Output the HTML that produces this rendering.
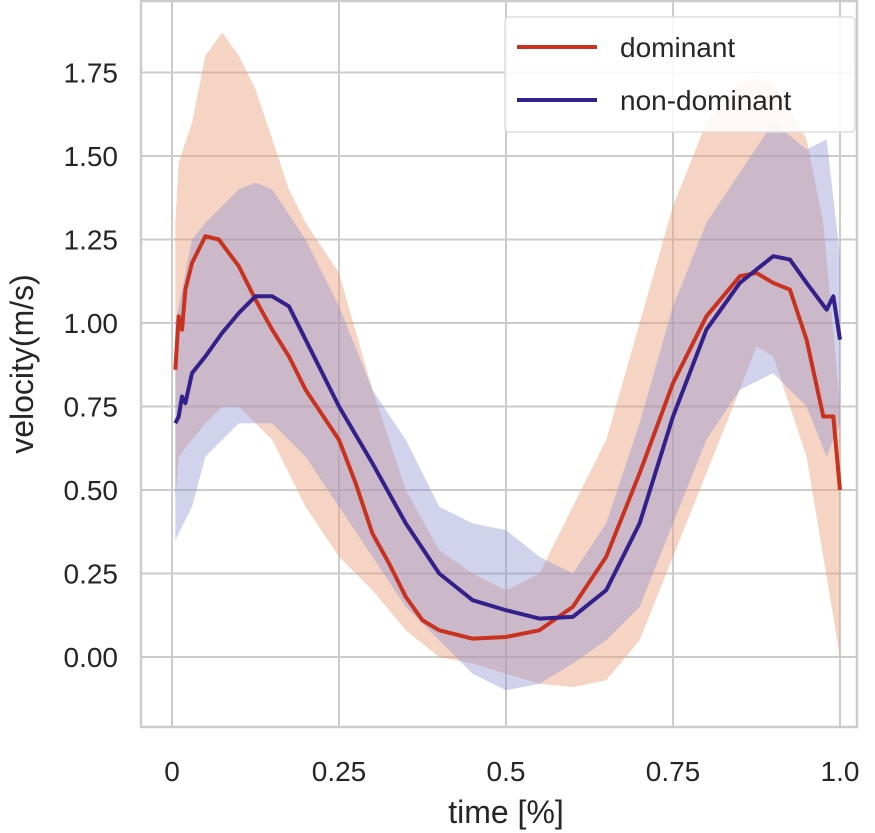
<!DOCTYPE html>
<html><head><meta charset="utf-8"><style>
body{margin:0;background:#fff;}
svg{display:block;font-family:"Liberation Sans",sans-serif;}
</style></head><body>
<svg id="chart" width="875" height="833"></svg>
<script>
const xTicks=[0,0.25,0.5,0.75,1.0];
const xTickLabels=["0","0.25","0.5","0.75","1.0"];
const yTicks=[0,0.25,0.5,0.75,1.0,1.25,1.5,1.75];
const yTickLabels=["0.00","0.25","0.50","0.75","1.00","1.25","1.50","1.75"];
const domX=[0.005,0.01,0.015,0.02,0.03,0.05,0.07,0.1,0.125,0.15,0.175,0.2,0.25,0.275,0.3,0.325,0.35,0.375,0.4,0.45,0.5,0.55,0.6,0.65,0.7,0.75,0.8,0.85,0.875,0.9,0.925,0.95,0.975,0.99,1.0];
const domMean=[0.86,1.02,0.98,1.1,1.18,1.26,1.25,1.17,1.07,0.98,0.9,0.8,0.65,0.52,0.37,0.28,0.18,0.11,0.08,0.055,0.06,0.08,0.15,0.3,0.55,0.82,1.02,1.14,1.15,1.12,1.1,0.95,0.72,0.72,0.5];
const domBandX=[0.005,0.01,0.03,0.05,0.075,0.1,0.125,0.15,0.175,0.2,0.25,0.3,0.35,0.4,0.45,0.5,0.55,0.6,0.65,0.7,0.75,0.8,0.85,0.875,0.9,0.95,0.975,1.0];
const domUpper=[1.3,1.48,1.6,1.8,1.87,1.8,1.7,1.55,1.4,1.3,1.15,0.8,0.5,0.32,0.25,0.2,0.25,0.45,0.65,1.0,1.35,1.6,1.72,1.73,1.72,1.55,1.3,0.75];
const domLower=[0.47,0.6,0.65,0.7,0.75,0.75,0.7,0.65,0.55,0.45,0.3,0.2,0.08,0.0,-0.02,-0.05,-0.08,-0.09,-0.07,0.05,0.3,0.55,0.8,0.93,0.9,0.6,0.3,0.0];
const ndX=[0.005,0.01,0.015,0.02,0.03,0.05,0.075,0.1,0.125,0.15,0.175,0.2,0.25,0.3,0.35,0.4,0.45,0.5,0.55,0.6,0.65,0.7,0.75,0.8,0.85,0.9,0.925,0.95,0.98,0.99,1.0];
const ndMean=[0.7,0.72,0.78,0.76,0.85,0.9,0.97,1.03,1.08,1.08,1.05,0.95,0.75,0.58,0.4,0.25,0.17,0.14,0.115,0.12,0.2,0.4,0.72,0.98,1.12,1.2,1.19,1.12,1.04,1.08,0.95];
const ndBandX=[0.005,0.03,0.05,0.1,0.125,0.15,0.2,0.25,0.3,0.35,0.4,0.45,0.5,0.55,0.6,0.65,0.7,0.75,0.8,0.85,0.9,0.95,0.98,1.0];
const ndUpper=[1.0,1.25,1.3,1.4,1.42,1.4,1.25,1.05,0.8,0.65,0.45,0.4,0.38,0.3,0.25,0.4,0.7,1.05,1.3,1.45,1.6,1.52,1.55,1.2];
const ndLower=[0.35,0.45,0.6,0.7,0.7,0.7,0.6,0.45,0.3,0.15,0.05,-0.05,-0.1,-0.08,-0.02,0.05,0.15,0.4,0.65,0.8,0.85,0.75,0.6,0.7];

const NS="http://www.w3.org/2000/svg";
const svg=document.getElementById('chart');
const X=v=>172+v*668;
const Y=v=>657-v*334;
function mk(tag,attrs,parent){const e=document.createElementNS(NS,tag);for(const k in attrs)e.setAttribute(k,attrs[k]);(parent||svg).appendChild(e);return e;}

const frame=mk('rect',{x:141,y:1,width:716,height:726,fill:'#fff',stroke:'#cccccc','stroke-width':2.5});


xTicks.forEach((t,i)=>{
  const l=mk('line',{x1:X(t),x2:X(t),y1:1,y2:727,stroke:'#cccccc','stroke-width':2});
  
  
  const tx=mk('text',{x:X(t),y:781,'text-anchor':'middle','font-size':28,fill:'#262626'});
  tx.textContent=xTickLabels[i];
  
  
});
yTicks.forEach((t,i)=>{
  const l=mk('line',{x1:141,x2:857,y1:Y(t),y2:Y(t),stroke:'#cccccc','stroke-width':2});
  
  
  const tx=mk('text',{x:118,y:Y(t)+10,'text-anchor':'end','font-size':28,fill:'#262626'});
  tx.textContent=yTickLabels[i];
  
  
});
function band(xs,up,lo,fill,op,name){
  let d='M'+xs.map((x,i)=>X(x)+','+Y(up[i])).join('L');
  for(let i=xs.length-1;i>=0;i--)d+='L'+X(xs[i])+','+Y(lo[i]);
  const p=mk('path',{d:d+'Z',fill:fill,'fill-opacity':op,stroke:'none'});
  
  
}
function line(xs,ys,col,name){
  const p=mk('path',{d:'M'+xs.map((x,i)=>X(x)+','+Y(ys[i])).join('L'),fill:'none',stroke:col,'stroke-width':4,'stroke-linejoin':'round'});
  
  
}
band(domBandX,domUpper,domLower,'#e8a07c',0.45,'dominant-band');
band(ndBandX,ndUpper,ndLower,'#8c90d2',0.4,'non-dominant-band');
line(domX,domMean,'#c8321e','dominant-line');
line(ndX,ndMean,'#33208a','non-dominant-line');

const lg=mk('g',{});


mk('rect',{x:505,y:17,width:350,height:115,rx:4,fill:'#fff','fill-opacity':0.85,stroke:'#dddddd','stroke-width':1.5},lg);
[['dominant','#c8321e',47],['non-dominant','#33208a',100]].forEach(([n,c,y])=>{
  const g=mk('g',{},lg);
  
  
  mk('line',{x1:517,x2:597,y1:y,y2:y,stroke:c,'stroke-width':4},g);
  const t=mk('text',{x:620,y:y+10,'font-size':28,fill:'#262626'},g);
  t.textContent=n;
});
const xl=mk('text',{x:506,y:823,'text-anchor':'middle','font-size':32,fill:'#262626'});
xl.textContent='time [%]';


const yl=mk('text',{x:0,y:0,'text-anchor':'middle','font-size':32,fill:'#262626',transform:'translate(33,364) rotate(-90)'});
yl.textContent='velocity(m/s)';


</script>
</body></html>
